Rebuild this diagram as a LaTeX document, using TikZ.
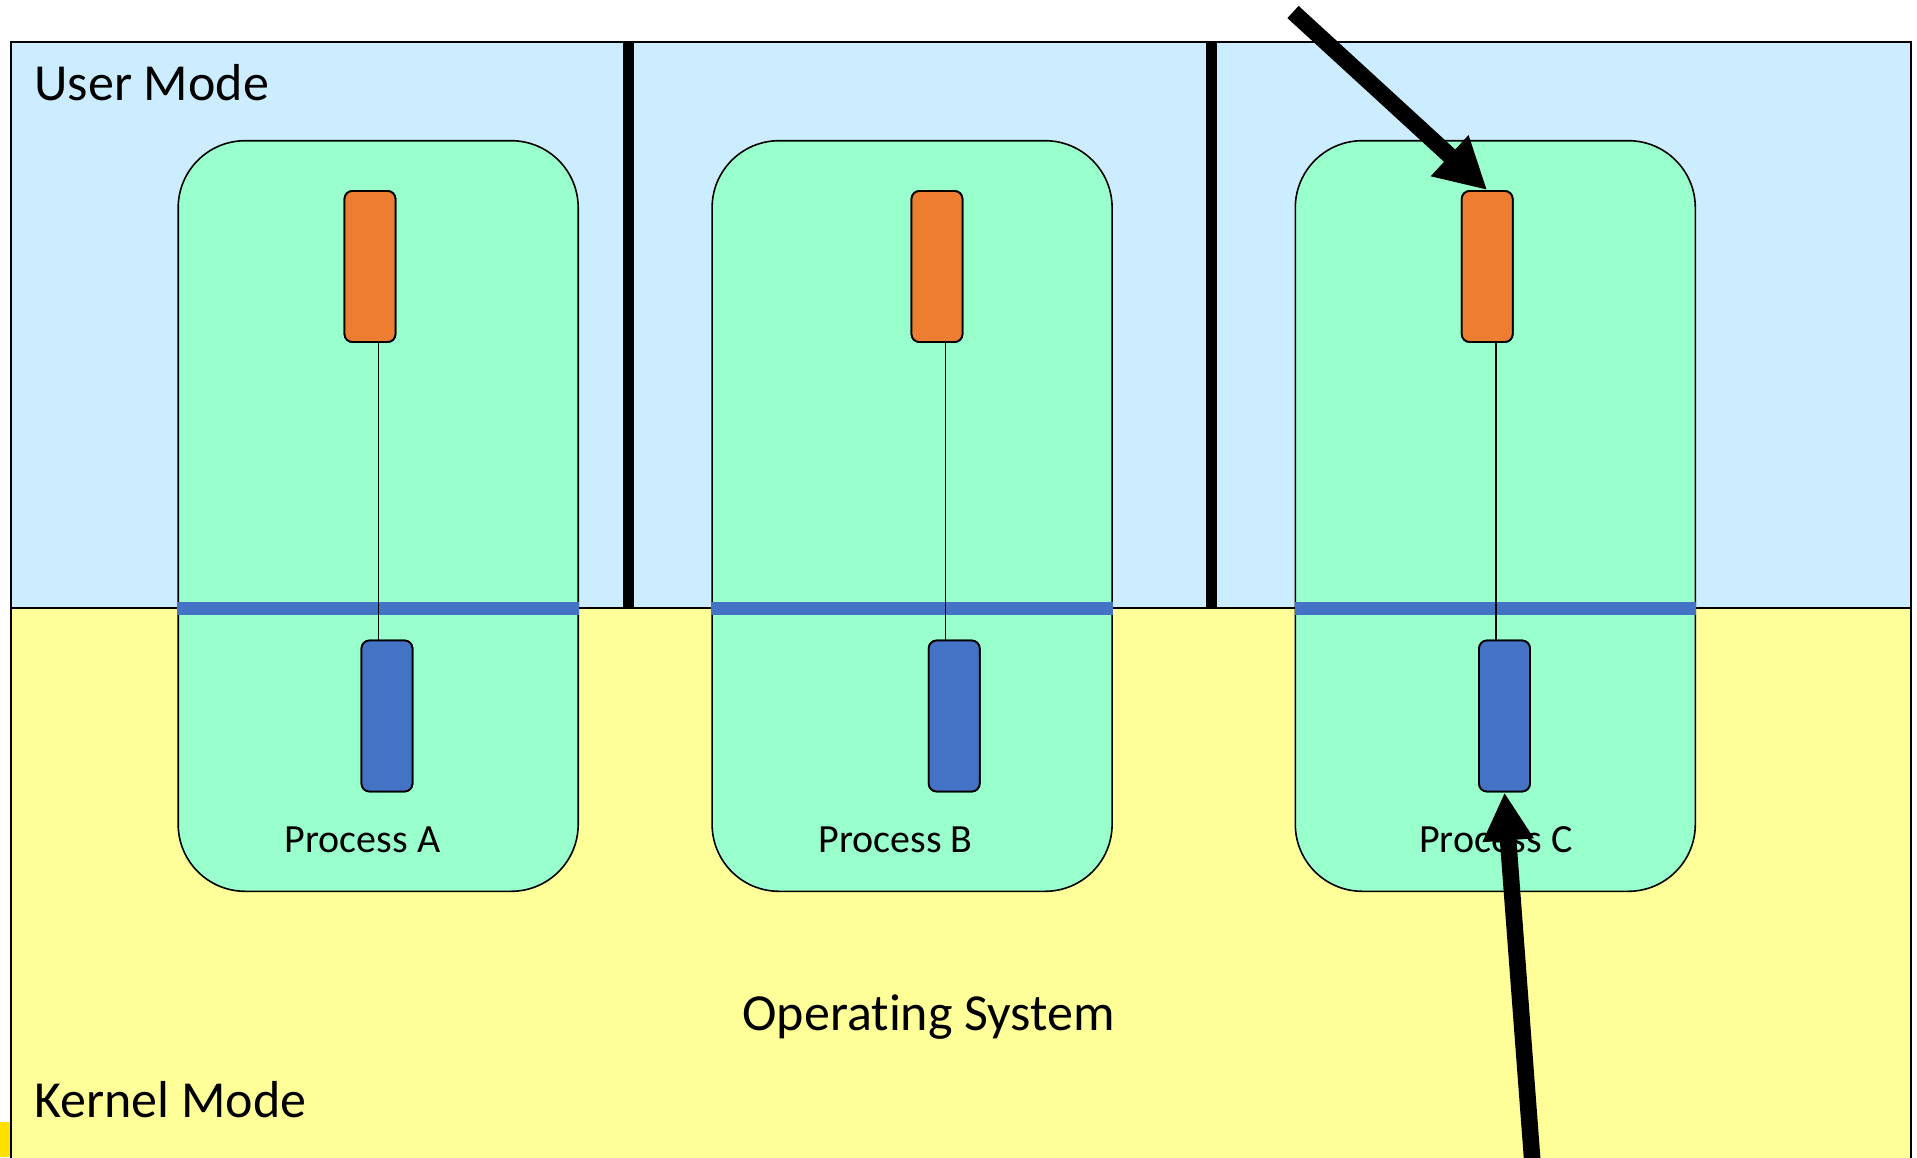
\documentclass[tikz,border=0pt]{standalone}
\usepackage{fontspec}
\setmainfont[Ligatures={NoCommon}]{Carlito}
\usetikzlibrary{arrows.meta}
\definecolor{userblue}{HTML}{CCECFF}
\definecolor{kernyellow}{HTML}{FFFF99}
\definecolor{procgreen}{HTML}{99FFCC}
\definecolor{orangebox}{HTML}{ED7D31}
\definecolor{bluebox}{HTML}{4472C4}
\definecolor{goldbit}{HTML}{FFE100}
\tikzset{
  procbox/.style={draw=black, line width=0.8pt, fill=procgreen, rounded corners=33.5pt,
    minimum width=200pt, minimum height=375.3pt, inner sep=0pt},
  ubox/.style={draw=black, line width=0.9pt, fill=orangebox, rounded corners=4pt,
    minimum width=25.5pt, minimum height=75.5pt, inner sep=0pt},
  kbox/.style={draw=black, line width=0.9pt, fill=bluebox, rounded corners=4pt,
    minimum width=25.5pt, minimum height=75.5pt, inner sep=0pt},
  sepline/.style={bluebox, line width=6.5pt},
  wall/.style={black, line width=5.4pt},
  link/.style={black, line width=0.7pt},
  bigarrow/.style={black, line width=8.3pt, -{Triangle[length=25.5pt, width=26pt]}},
  bigtxt/.style={font=\fontsize{26pt}{30pt}\selectfont, inner sep=0pt},
  proctxt/.style={font=\fontsize{20pt}{24pt}\selectfont, inner sep=0pt, anchor=base},
}
\begin{document}
\begin{tikzpicture}[x=0.5pt,y=-0.5pt]
\useasboundingbox (0,0) rectangle (1917,1157);
\fill[white] (0,0) rectangle (1917,1157);
% regions
\fill[goldbit] (0,1122) rectangle (12,1157);
\draw[line width=1pt, fill=userblue] (11,41.6) rectangle (1911,607.7);
\draw[line width=1pt, fill=kernyellow] (11,607.7) -- (1911,607.7) -- (1911,1160) -- (11,1160) -- cycle;
% walls between user-mode areas
\draw[wall] (628.7,41.6) -- (628.7,607.7);
\draw[wall] (1211.6,41.6) -- (1211.6,607.7);
% processes
\node[procbox] (pA) at (378.2,516) {};
\node[procbox] (pB) at (912.1,516) {};
\node[procbox] (pC) at (1495.3,516) {};
\draw[sepline] (pA.west |- 0,608.3) -- (pA.east |- 0,608.3);
\draw[sepline] (pB.west |- 0,608.3) -- (pB.east |- 0,608.3);
\draw[sepline] (pC.west |- 0,608.3) -- (pC.east |- 0,608.3);
% user/kernel boxes
\coordinate (lA) at (378.5,0);
\coordinate (lB) at (945.5,0);
\coordinate (lC) at (1496,0);
\node[ubox] (uA) at (370,266.5) {};
\node[ubox] (uB) at (937,266.5) {};
\node[ubox] (uC) at (1487.2,266.5) {};
\node[kbox] (kA) at (387,716) {};
\node[kbox] (kB) at (954.2,716) {};
\node[kbox] (kC) at (1504.5,716) {};
\draw[link] (uA.south -| lA) -- (kA.north -| lA);
\draw[link] (uB.south -| lB) -- (kB.north -| lB);
\draw[link] (uC.south -| lC) -- (kC.north -| lC);
\node[ubox] at (uA) {};
\node[ubox] at (uB) {};
\node[ubox] at (uC) {};
\node[kbox] at (kA) {};
\node[kbox] at (kB) {};
\node[kbox] at (kC) {};
% labels
\node[proctxt] (tA) at (362.5,852) {Process A};
\node[proctxt] (tB) at (895.5,852) {Process B};
\node[proctxt] (tC) at (1495.8,852) {Process C};
\node[bigtxt, anchor=base west] (um) at (34,100) {User Mode};
\node[bigtxt, anchor=base west] (km) at (34,1117) {Kernel Mode};
\node[bigtxt, anchor=base] (os) at (928.6,1030.7) {Operating System};
% arrows
\coordinate (a1) at (1293,12);
\coordinate (a2) at (1532.4,1162);
\draw[bigarrow] (a1) -- (uC.north);
\draw[bigarrow, -{Triangle[length=24pt, width=24pt]}] (a2) -- (kC.south);
\end{tikzpicture}
\end{document}
